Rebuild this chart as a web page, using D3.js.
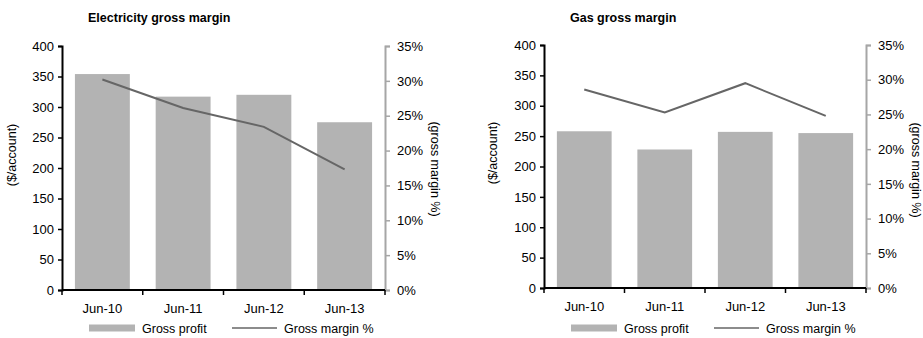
<!DOCTYPE html>
<html>
<head>
<meta charset="utf-8">
<script src="https://cdn.jsdelivr.net/npm/d3@7"></script>
<style>
  html, body { margin: 0; padding: 0; background: #fff; }
  svg { display: block; font-family: "Liberation Sans", Arial, sans-serif; }
</style>
</head>
<body>
<svg id="chart" width="923" height="338"></svg>
<script>
// Financial years
const periods = ["Jun-10", "Jun-11", "Jun-12", "Jun-13"];

// Electricity: gross profit ($/account) and gross margin (%)
const elecProfit = [354, 317, 320, 275];
const elecMargin = [30.2, 26.1, 23.4, 17.3];

// Gas: gross profit ($/account) and gross margin (%)
const gasProfit = [258, 228, 257, 255];
const gasMargin = [28.6, 25.3, 29.5, 24.8];

// Axis ticks
const profitTicks = [0, 50, 100, 150, 200, 250, 300, 350, 400];
const marginTicks = [0, 5, 10, 15, 20, 25, 30, 35];

const BAR = "#b3b3b3";
const LINE = "#666666";
const RAXIS = "#a6a6a6";

const svg = d3.select("#chart");

function drawPanel(cfg) {
  const g = svg.append("g");
  const x = d3.scaleBand().domain(periods).range([cfg.left, cfg.right]).paddingInner(0.32).paddingOuter(0.16);
  const y = d3.scaleLinear().domain([0, 400]).range([cfg.bottom, cfg.top]);
  const y2 = d3.scaleLinear().domain([0, 35]).range([cfg.bottom, cfg.top]);

  // title
  g.append("text")
    .attr("x", cfg.titleX).attr("y", 22)
    .attr("font-size", 12.5).attr("font-weight", "bold").attr("fill", "#000")
    .text(cfg.title);

  // bars
  g.selectAll("rect.bar").data(cfg.profit).join("rect")
    .attr("class", "bar")
    .attr("x", (d, i) => x(periods[i]))
    .attr("y", d => y(d))
    .attr("width", x.bandwidth())
    .attr("height", d => y(0) - y(d))
    .attr("fill", BAR);

  // margin line
  const line = d3.line()
    .x((d, i) => x(periods[i]) + x.bandwidth() / 2)
    .y(d => y2(d));
  g.append("path").datum(cfg.margin)
    .attr("d", line)
    .attr("fill", "none").attr("stroke", LINE).attr("stroke-width", 2);

  // left axis
  const ly = g.append("g").attr("transform", `translate(${cfg.left},0)`)
    .call(d3.axisLeft(y).tickValues(profitTicks).tickSize(4).tickPadding(4));
  ly.select(".domain").attr("stroke", "#000").attr("stroke-width", 2);
  ly.selectAll(".tick line").attr("stroke", "#000").attr("stroke-width", 1.5);
  ly.selectAll("text").attr("font-size", 13).attr("fill", "#000").attr("font-family", null);

  // right axis
  const ry = g.append("g").attr("transform", `translate(${cfg.right},0)`)
    .call(d3.axisRight(y2).tickValues(marginTicks).tickFormat(d => d + "%").tickSize(5).tickPadding(7));
  ry.select(".domain").attr("stroke", RAXIS).attr("stroke-width", 2);
  ry.selectAll(".tick line").attr("stroke", RAXIS).attr("stroke-width", 1.5);
  ry.selectAll("text").attr("font-size", 13).attr("fill", "#000").attr("font-family", null);

  // category axis with ticks at band boundaries
  const xb = g.append("g").attr("transform", `translate(0,${cfg.bottom})`);
  xb.append("line")
    .attr("x1", cfg.left).attr("x2", cfg.right)
    .attr("stroke", "#000").attr("stroke-width", 2);
  const bounds = d3.range(periods.length + 1).map(i => cfg.left + i * (cfg.right - cfg.left) / periods.length);
  xb.selectAll("line.tk").data(bounds).join("line")
    .attr("class", "tk")
    .attr("x1", d => d).attr("x2", d => d)
    .attr("y1", 0).attr("y2", 5)
    .attr("stroke", "#000").attr("stroke-width", 1.5);
  xb.selectAll("text").data(periods).join("text")
    .attr("x", d => x(d) + x.bandwidth() / 2)
    .attr("y", 23)
    .attr("text-anchor", "middle").attr("font-size", 13).attr("fill", "#000")
    .text(d => d);

  // axis titles
  g.append("text")
    .attr("transform", `translate(${cfg.ltitleX},${cfg.ltitleY}) rotate(-90)`)
    .attr("text-anchor", "middle").attr("font-size", 12.5).attr("fill", "#000")
    .text("($/account)");
  g.append("text")
    .attr("transform", `translate(${cfg.rtitleX},${cfg.rtitleY}) rotate(90)`)
    .attr("text-anchor", "middle").attr("font-size", 12.5).attr("fill", "#000")
    .text("(gross margin %)");

  // legend
  const lg = g.append("g").attr("transform", `translate(${cfg.legendX},328)`);
  lg.append("rect").attr("x", 0).attr("y", -3.5).attr("width", 46).attr("height", 7).attr("fill", BAR);
  lg.append("text").attr("x", 53).attr("y", 5).attr("font-size", 12.5).attr("fill", "#000").text("Gross profit");
  lg.append("line").attr("x1", 143).attr("x2", 188).attr("y1", 0).attr("y2", 0)
    .attr("stroke", LINE).attr("stroke-width", 1.5);
  lg.append("text").attr("x", 195).attr("y", 5).attr("font-size", 12.5).attr("fill", "#000").text("Gross margin %");
}

drawPanel({
  title: "Electricity gross margin", titleX: 88,
  profit: elecProfit, margin: elecMargin,
  left: 62, right: 385, top: 46, bottom: 290,
  ltitleX: 16, ltitleY: 155, rtitleX: 431, rtitleY: 169,
  legendX: 89
});

drawPanel({
  title: "Gas gross margin", titleX: 570,
  profit: gasProfit, margin: gasMargin,
  left: 544, right: 866, top: 45, bottom: 288,
  ltitleX: 497, ltitleY: 153, rtitleX: 912, rtitleY: 170,
  legendX: 571
});
</script>
</body>
</html>
